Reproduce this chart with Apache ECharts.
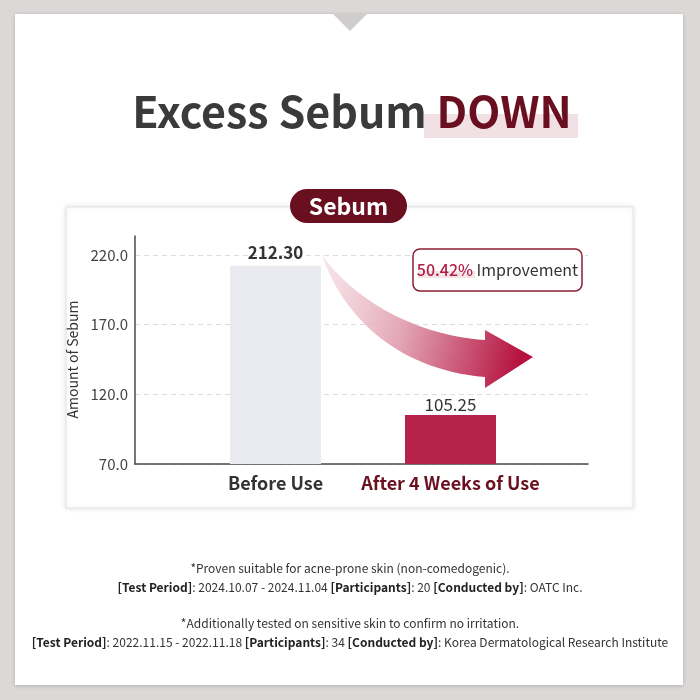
<!DOCTYPE html>
<html>
<head>
<meta charset="utf-8">
<script src="https://cdn.jsdelivr.net/npm/echarts@6/dist/echarts.min.js"></script>
<style>
  html, body { margin: 0; padding: 0; background: #dcd8d8; }
  #chart { width: 700px; height: 700px; }
</style>
</head>
<body>
<div id="chart"></div>
<script>
// values
const categories = ['Before Use', 'After 4 Weeks of Use']
const sebumValues = [212.30, 105.25]
const barColors = ['#e9ebf0', '#b5234b']
const labelColors = ['#333333', '#6b1020']
const yMin = 70
const yMax = 220
const yInterval = 50
const improvement = '50.42%'

const FONT = '"Noto Sans CJK KR", "Noto Sans", sans-serif'
const DARK = '#6a0f1f'

const footnotes = [
  { y: 568, text: '*Proven suitable for acne-prone skin (non-comedogenic).' },
  { y: 587, text: '{b|[Test Period]}: 2024.10.07 - 2024.11.04 {b|[Participants]}: 20 {b|[Conducted by]}: OATC Inc.' },
  { y: 623, text: '*Additionally tested on sensitive skin to confirm no irritation.' },
  { y: 642, text: '{b|[Test Period]}: 2022.11.15 - 2022.11.18 {b|[Participants]}: 34 {b|[Conducted by]}: Korea Dermatological Research Institute' }
]

// sample a cubic bezier for the decorative arrow outline
function bezier (p0, p1, p2, p3, n) {
  const pts = []
  for (let i = 0; i <= n; i++) {
    const t = i / n
    const u = 1 - t
    pts.push([
      u * u * u * p0[0] + 3 * u * u * t * p1[0] + 3 * u * t * t * p2[0] + t * t * t * p3[0],
      u * u * u * p0[1] + 3 * u * u * t * p1[1] + 3 * u * t * t * p2[1] + t * t * t * p3[1]
    ])
  }
  return pts
}
const arrowPoints = []
  .concat(bezier([322, 255], [350, 295], [410, 335], [485, 340], 30))
  .concat([[485, 330], [533, 357], [485, 388]])
  .concat(bezier([485, 377], [400, 370], [345, 320], [322, 256], 30))

const chart = echarts.init(document.getElementById('chart'))

const grids = [
  // dashed lines, y labels, x axis line
  { left: 135, right: 112, top: 255, bottom: 236 },
  // y axis line, runs a bit above the top tick
  { left: 135, right: 112, top: 236, bottom: 236 },
  // bars
  { left: 188, right: 162, top: 255, bottom: 236 }
]

const option = {
  backgroundColor: '#dcd8d8',
  animation: false,
  grid: grids,
  xAxis: [
    {
      gridIndex: 0,
      type: 'category',
      data: [''],
      axisLine: { show: true, lineStyle: { color: '#4a4a4a', width: 1.5 } },
      axisTick: { show: false },
      axisLabel: { show: false }
    },
    { gridIndex: 1, type: 'category', data: [''], show: false },
    {
      gridIndex: 2,
      type: 'category',
      data: categories,
      axisLine: { show: false },
      axisTick: { show: false },
      axisLabel: {
        interval: 0,
        hideOverlap: false,
        margin: 10,
        fontFamily: FONT,
        fontSize: 18,
        fontWeight: 600,
        color: (v, i) => labelColors[i]
      }
    }
  ],
  yAxis: [
    {
      gridIndex: 0,
      type: 'value',
      min: yMin,
      max: yMax,
      interval: yInterval,
      name: 'Amount of Sebum',
      nameLocation: 'middle',
      nameGap: 46,
      nameTextStyle: { fontFamily: FONT, fontSize: 14, color: '#333' },
      axisLine: { show: false },
      axisTick: { show: false },
      axisLabel: {
        margin: 7,
        fontFamily: FONT,
        fontSize: 15,
        color: '#444',
        formatter: v => v.toFixed(1)
      },
      splitLine: { lineStyle: { color: '#dcdcdc', type: [5, 4] } }
    },
    {
      gridIndex: 1,
      type: 'value',
      min: 0,
      max: 1,
      axisLine: { show: true, lineStyle: { color: '#4a4a4a', width: 1.5 } },
      axisTick: { show: false },
      axisLabel: { show: false },
      splitLine: { show: false }
    },
    { gridIndex: 2, type: 'value', min: yMin, max: yMax, interval: yInterval, show: false, splitLine: { show: false } }
  ],
  series: [
    {
      type: 'bar',
      xAxisIndex: 2,
      yAxisIndex: 2,
      barWidth: 91,
      z: 3,
      data: sebumValues.map((v, i) => ({
        value: v,
        itemStyle: { color: barColors[i] },
        label: {
          distance: i === 0 ? 5 : 2,
          fontWeight: i === 0 ? 700 : 400
        }
      })),
      label: {
        show: true,
        position: 'top',
        fontFamily: FONT,
        fontSize: 17,
        color: '#333',
        formatter: p => p.value.toFixed(2)
      }
    }
  ],
  graphic: [
    // white panel
    {
      type: 'rect', z: -10,
      shape: { x: 15, y: 14, width: 668, height: 671 },
      style: { fill: '#ffffff', shadowBlur: 4, shadowColor: 'rgba(0,0,0,0.2)', shadowOffsetY: 1 }
    },
    {
      type: 'polygon', z: -9,
      shape: { points: [[333, 14], [367, 14], [350, 31]] },
      style: { fill: '#cfcccc' }
    },
    // title
    {
      type: 'rect', z: -8,
      shape: { x: 424, y: 114, width: 154, height: 24 },
      style: { fill: '#f2e1e4' }
    },
    {
      type: 'text', z: 5,
      x: 352, y: 112,
      style: {
        text: '{a|Excess Sebum }{d|DOWN}',
        align: 'center',
        verticalAlign: 'middle',
        rich: {
          a: { fontFamily: FONT, fontSize: 43, fontWeight: 700, fill: '#3a3a3a' },
          d: { fontFamily: FONT, fontSize: 43, fontWeight: 700, fill: DARK }
        }
      }
    },
    // chart card
    {
      type: 'rect', z: -7,
      shape: { x: 66, y: 207, width: 567, height: 301 },
      style: { fill: '#ffffff', stroke: '#e6e6e6', lineWidth: 1, shadowBlur: 5, shadowColor: 'rgba(0,0,0,0.12)' }
    },
    {
      type: 'rect', z: 5,
      shape: { x: 290, y: 189, width: 117, height: 34, r: 17 },
      style: { fill: DARK }
    },
    {
      type: 'text', z: 6,
      x: 348.5, y: 206,
      style: { text: 'Sebum', fontFamily: FONT, fontSize: 23, fontWeight: 700, fill: '#ffffff', align: 'center', verticalAlign: 'middle' }
    },
    // curved arrow
    {
      type: 'polygon', z: 10,
      shape: { points: arrowPoints },
      style: {
        fill: new echarts.graphic.LinearGradient(0, 0, 1, 0.4, [
          { offset: 0, color: 'rgba(240,205,214,0.5)' },
          { offset: 0.45, color: '#e2a4b4' },
          { offset: 1, color: '#b5123f' }
        ])
      }
    },
    // improvement box
    {
      type: 'rect', z: 11,
      shape: { x: 413, y: 249, width: 169, height: 42, r: 7 },
      style: { fill: '#ffffff', stroke: '#8c1d33', lineWidth: 1.5 }
    },
    {
      type: 'rect', z: 11,
      shape: { x: 418, y: 271, width: 57, height: 7 },
      style: { fill: '#f6e3e8' }
    },
    {
      type: 'text', z: 12,
      x: 497.5, y: 270,
      style: {
        text: '{p|' + improvement + '} {t|Improvement}',
        align: 'center',
        verticalAlign: 'middle',
        rich: {
          p: { fontFamily: FONT, fontSize: 16, fontWeight: 500, fill: '#b01f47' },
          t: { fontFamily: FONT, fontSize: 16, fill: '#333333' }
        }
      }
    }
  ].concat(footnotes.map(f => ({
    type: 'text', z: 5,
    x: 350, y: f.y,
    style: {
      text: f.text,
      align: 'center',
      verticalAlign: 'middle',
      fontFamily: FONT,
      fontSize: 12,
      fill: '#333333',
      rich: {
        b: { fontFamily: FONT, fontSize: 12, fontWeight: 600, fill: '#222222' }
      }
    }
  })))
}

chart.setOption(option)

window.addEventListener('resize', () => chart.resize())
</script>
</body>
</html>
